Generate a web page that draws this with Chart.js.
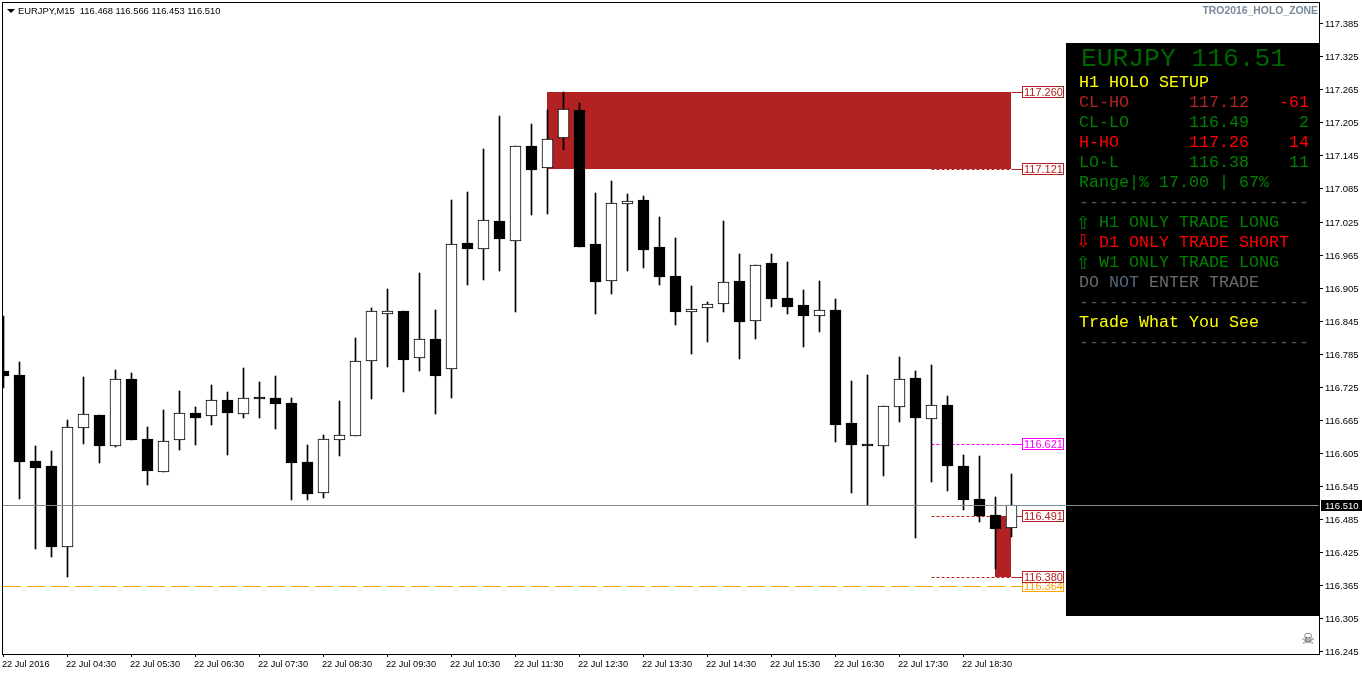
<!DOCTYPE html>
<html>
<head>
<meta charset="utf-8">
<title>EURJPY M15</title>
<script src="https://cdn.jsdelivr.net/npm/chart.js@4/dist/chart.umd.min.js"></script>
<style>
  html, body { margin: 0; padding: 0; background: #fff; }
  #wrap { width: 1362px; height: 675px; }
</style>
</head>
<body>
<div id="wrap"><canvas id="chart" width="1362" height="675"></canvas></div>
<script>
// M15 candles, one entry per bar
const opens = [116.754,116.746,116.590,116.581,116.435,116.650,116.674,116.618,116.739,116.630,116.571,116.628,116.678,116.672,116.701,116.676,116.707,116.705,116.696,116.589,116.532,116.628,116.636,116.771,116.858,116.863,116.777,116.812,116.757,116.986,116.976,117.026,116.989,117.162,117.122,117.176,117.227,116.984,116.917,117.057,117.064,116.979,116.926,116.861,116.868,116.875,116.917,116.844,116.950,116.886,116.874,116.854,116.864,116.659,116.621,116.618,116.689,116.741,116.667,116.692,116.581,116.521,116.492,116.468];
const highs = [116.854,116.770,116.618,116.609,116.665,116.743,116.674,116.756,116.750,116.652,116.683,116.717,116.688,116.728,116.716,116.759,116.734,116.745,116.705,116.619,116.638,116.699,116.814,116.868,116.903,116.863,116.932,116.864,117.064,117.079,117.157,117.217,117.162,117.202,117.227,117.260,117.240,117.077,117.099,117.075,117.071,117.033,116.995,116.908,116.879,117.026,116.966,116.947,116.966,116.952,116.901,116.917,116.884,116.736,116.746,116.690,116.779,116.754,116.765,116.708,116.601,116.599,116.525,116.566];
const lows = [116.723,116.522,116.431,116.417,116.380,116.622,116.587,116.616,116.629,116.546,116.571,116.611,116.620,116.656,116.602,116.669,116.669,116.649,116.520,116.520,116.524,116.600,116.636,116.703,116.761,116.716,116.754,116.676,116.705,116.910,116.918,116.936,116.860,117.037,117.039,117.154,116.979,116.858,116.894,116.936,116.941,116.909,116.838,116.785,116.807,116.861,116.776,116.811,116.870,116.858,116.798,116.825,116.625,116.533,116.510,116.564,116.662,116.451,116.553,116.536,116.502,116.480,116.395,116.453];
const closes = [116.745,116.589,116.578,116.435,116.652,116.675,116.618,116.740,116.629,116.572,116.626,116.677,116.669,116.701,116.678,116.704,116.703,116.694,116.586,116.531,116.630,116.637,116.771,116.862,116.862,116.774,116.811,116.745,116.985,116.976,117.027,116.994,117.162,117.119,117.175,117.229,116.979,116.916,117.058,117.062,116.974,116.925,116.861,116.866,116.875,116.915,116.843,116.947,116.885,116.870,116.854,116.864,116.656,116.620,116.618,116.690,116.740,116.668,116.692,116.581,116.520,116.491,116.467,116.510];

// axis labels
const priceTicks = [117.385,117.325,117.265,117.205,117.145,117.085,117.025,116.965,116.905,116.845,116.785,116.725,116.665,116.605,116.545,116.485,116.425,116.365,116.305,116.245];
const timeLabels = ["22 Jul 2016","22 Jul 04:30","22 Jul 05:30","22 Jul 06:30","22 Jul 07:30","22 Jul 08:30","22 Jul 09:30","22 Jul 10:30","22 Jul 11:30","22 Jul 12:30","22 Jul 13:30","22 Jul 14:30","22 Jul 15:30","22 Jul 16:30","22 Jul 17:30","22 Jul 18:30"];
const barsPerTimeLabel = 4;

const currentPrice = 116.510;
const lowLinePrice = 116.364;

// holo zones: first bar, last bar, top, bottom
const zoneBars = [[34, 63], [62, 63]];
const zoneTops = [117.260, 116.491];
const zoneBottoms = [117.121, 116.380];

// right hand price tags
const levelPrices = [117.260, 117.121, 116.621, 116.491, 116.364, 116.380];
const levelColors = ["#b22222", "#b22222", "#ff00ff", "#b22222", "#ffa500", "#b22222"];
const levelDashed = [false, true, true, true, false, true];

const BLACK = "#000000";
const WHITE = "#ffffff";
const SANS = '"Liberation Sans", sans-serif';
const MONO = '"Liberation Mono", monospace';

const bodyData = opens.map((open, i) => ({ x: i, y: [open, closes[i]] }));
const wickData = opens.map((_, i) => ({ x: i, y: [lows[i], highs[i]] }));

// snap prices to whole pixels so the candles stay crisp like the terminal
class PixelLinearScale extends Chart.LinearScale {
  getPixelForValue(value) {
    return Math.round(super.getPixelForValue(value));
  }
}
PixelLinearScale.id = "pixelLinear";
PixelLinearScale.defaults = Chart.LinearScale.defaults;
Chart.register(PixelLinearScale);

function panelRow(ctx, text, x, y, color, align) {
  ctx.fillStyle = color;
  ctx.textAlign = align || "left";
  ctx.fillText(text, x, y);
}

function drawPanel(chart) {
  const ctx = chart.ctx;
  const right = chart.chartArea.right;
  ctx.save();
  ctx.fillStyle = BLACK;
  ctx.fillRect(1066, 43, right - 1066, 573);
  ctx.textBaseline = "alphabetic";

  ctx.font = "26.3px " + MONO;
  panelRow(ctx, "EURJPY 116.51", 1081, 66, "#006400");

  ctx.font = "16.67px " + MONO;
  panelRow(ctx, "H1 HOLO SETUP", 1079, 87, "#ffff00");
  panelRow(ctx, "CL-HO", 1079, 107, "#b22222");
  panelRow(ctx, "117.12", 1189, 107, "#b22222");
  panelRow(ctx, "-61", 1309, 107, "#ff0000", "right");
  panelRow(ctx, "CL-LO", 1079, 127, "#008000");
  panelRow(ctx, "116.49", 1189, 127, "#008000");
  panelRow(ctx, "2", 1309, 127, "#008000", "right");
  panelRow(ctx, "H-HO", 1079, 147, "#ff0000");
  panelRow(ctx, "117.26", 1189, 147, "#ff0000");
  panelRow(ctx, "14", 1309, 147, "#ff0000", "right");
  panelRow(ctx, "LO-L", 1079, 167, "#008000");
  panelRow(ctx, "116.38", 1189, 167, "#008000");
  panelRow(ctx, "11", 1309, 167, "#008000", "right");
  panelRow(ctx, "Range|% 17.00 | 67%", 1079, 187, "#008000");
  panelRow(ctx, "-----------------------", 1079, 207, "#555555");
  panelRow(ctx, "H1 ONLY TRADE LONG", 1099, 227, "#008000");
  panelRow(ctx, "D1 ONLY TRADE SHORT", 1099, 247, "#ff0000");
  panelRow(ctx, "W1 ONLY TRADE LONG", 1099, 267, "#008000");
  panelRow(ctx, "DO", 1079, 287, "#696969");
  panelRow(ctx, "NOT", 1109, 287, "#56677c");
  panelRow(ctx, "ENTER TRADE", 1149, 287, "#696969");
  panelRow(ctx, "-----------------------", 1079, 307, "#555555");
  panelRow(ctx, "Trade What You See", 1079, 327, "#ffff00");
  panelRow(ctx, "-----------------------", 1079, 347, "#555555");

  ctx.font = '18px "DejaVu Sans", sans-serif';
  panelRow(ctx, "⇧", 1076, 229, "#008000");
  panelRow(ctx, "⇩", 1076, 247, "#ff0000");
  panelRow(ctx, "⇧", 1076, 269, "#008000");
  ctx.restore();
}

const terminalPlugin = {
  id: "terminal",
  beforeDatasetsDraw(chart) {
    const { ctx, scales: { x, y } } = chart;
    ctx.save();
    ctx.fillStyle = "#b22222";
    zoneBars.forEach((bars, i) => {
      const left = x.getPixelForValue(bars[0]) - 0.5;
      const right = x.getPixelForValue(bars[1]) - 0.5;
      const top = y.getPixelForValue(zoneTops[i]);
      ctx.fillRect(left, top, right - left, y.getPixelForValue(zoneBottoms[i]) - top);
    });
    ctx.restore();
  },
  // dataset 0 is the current price line and goes over the black panel
  beforeDatasetDraw(chart, args) {
    if (args.index === 0) drawPanel(chart);
    // half pixel shift keeps the 1px level lines on a single row
    if (args.meta.type === "line") {
      chart.ctx.save();
      chart.ctx.translate(0, 0.5);
    }
  },
  afterDatasetDraw(chart, args) {
    if (args.meta.type === "line") chart.ctx.restore();
  },
  afterDraw(chart) {
    const { ctx, chartArea: area, scales: { x, y } } = chart;
    ctx.save();

    // frame
    ctx.strokeStyle = BLACK;
    ctx.lineWidth = 1;
    ctx.strokeRect(area.left - 0.5, area.top - 0.5, area.right - area.left + 1, area.bottom - area.top + 1);

    // price tags
    ctx.font = "11px " + SANS;
    ctx.textBaseline = "middle";
    ctx.textAlign = "left";
    levelPrices.forEach((price, i) => {
      const py = y.getPixelForValue(price);
      ctx.fillStyle = WHITE;
      ctx.fillRect(1022, py - 6, 42, 12);
      ctx.strokeStyle = levelColors[i];
      ctx.strokeRect(1022.5, py - 5.5, 41, 11);
      ctx.fillStyle = levelColors[i];
      ctx.fillText(price.toFixed(3), 1024, py + 0.5);
    });

    // current price tag on the axis
    const pricePx = y.getPixelForValue(currentPrice);
    ctx.fillStyle = BLACK;
    ctx.fillRect(area.right + 2, pricePx - 5, 1362 - area.right - 2, 11);
    ctx.fillStyle = WHITE;
    ctx.font = "9.5px " + SANS;
    ctx.fillText(currentPrice.toFixed(3), 1325, pricePx + 1);

    // header texts
    ctx.fillStyle = BLACK;
    ctx.beginPath();
    ctx.moveTo(7, 9);
    ctx.lineTo(15, 9);
    ctx.lineTo(11, 13);
    ctx.closePath();
    ctx.fill();
    ctx.font = "9.4px " + SANS;
    ctx.fillText("EURJPY,M15  116.468 116.566 116.453 116.510", 18, 11);

    ctx.fillStyle = "#778899";
    ctx.font = "bold 10.4px " + SANS;
    ctx.textAlign = "right";
    ctx.fillText("TRO2016_HOLO_ZONE", 1318, 11);

    ctx.fillStyle = "#444444";
    ctx.font = '15px "DejaVu Sans", sans-serif';
    ctx.textAlign = "center";
    ctx.fillText("☠", 1308, 640);
    ctx.restore();
  }
};

function levelLine(price, fromBar, toBar, color, dash) {
  return {
    type: "line",
    data: [{ x: fromBar, y: price }, { x: toBar, y: price }],
    borderColor: color,
    borderWidth: 1,
    borderDash: dash,
    pointRadius: 0,
    clip: 0
  };
}

// dashed stretch from bar 58, then the solid connector into the tag
const tagBar = 63.65;
const levelLines = [];
levelPrices.forEach((price, i) => {
  if (levelDashed[i]) levelLines.push(levelLine(price, 58, 63, levelColors[i], [3, 2]));
  levelLines.push(levelLine(price, 63, tagBar, levelColors[i], []));
});

new Chart(document.getElementById("chart"), {
  type: "bar",
  data: {
    datasets: [
      levelLine(currentPrice, -0.03, 82.2, "#7f8a91", []),
      {
        data: bodyData,
        backgroundColor: opens.map((open, i) => closes[i] >= open ? WHITE : BLACK),
        borderColor: BLACK,
        borderWidth: 1,
        borderSkipped: false,
        barThickness: 11,
        barPercentage: 1,
        categoryPercentage: 1,
        grouped: false,
        clip: 0
      },
      {
        data: wickData,
        backgroundColor: BLACK,
        barThickness: 1,
        barPercentage: 1,
        categoryPercentage: 1,
        grouped: false,
        clip: 0
      },
      levelLine(lowLinePrice, -0.03, tagBar, "#ffa500", [18, 6]),
      ...levelLines
    ]
  },
  options: {
    responsive: false,
    animation: false,
    layout: { padding: { left: 3, top: 3 } },
    plugins: {
      legend: { display: false },
      tooltip: { enabled: false }
    },
    scales: {
      x: {
        type: "linear",
        offset: false,
        bounds: "data",
        min: -0.03125,
        max: 82.21875,
        grid: { offset: false, drawOnChartArea: false, tickLength: 3, tickColor: BLACK },
        border: { display: false },
        afterBuildTicks(axis) {
          axis.ticks = timeLabels.map((_, i) => ({ value: i * barsPerTimeLabel }));
        },
        afterFit(axis) { axis.height = 21; axis.paddingLeft = 0; axis.paddingRight = 0; },
        ticks: {
          autoSkip: false,
          maxRotation: 0,
          align: "start",
          padding: 2,
          labelOffset: -1.5,
          color: BLACK,
          font: { family: SANS, size: 9.2 },
          callback: (value, i) => timeLabels[i]
        }
      },
      y: {
        type: "pixelLinear",
        position: "right",
        bounds: "data",
        min: 116.24010,
        max: 117.42160,
        grid: { drawOnChartArea: false, tickLength: 4, tickColor: BLACK },
        border: { display: false },
        afterBuildTicks(axis) {
          axis.ticks = priceTicks.map(value => ({ value }));
        },
        afterFit(axis) { axis.width = 43; axis.paddingTop = 0; axis.paddingBottom = 0; },
        ticks: {
          padding: 2,
          labelOffset: 1,
          color: BLACK,
          font: { family: SANS, size: 9.5 },
          callback: value => value.toFixed(3)
        }
      }
    }
  },
  plugins: [terminalPlugin]
});
</script>
</body>
</html>
